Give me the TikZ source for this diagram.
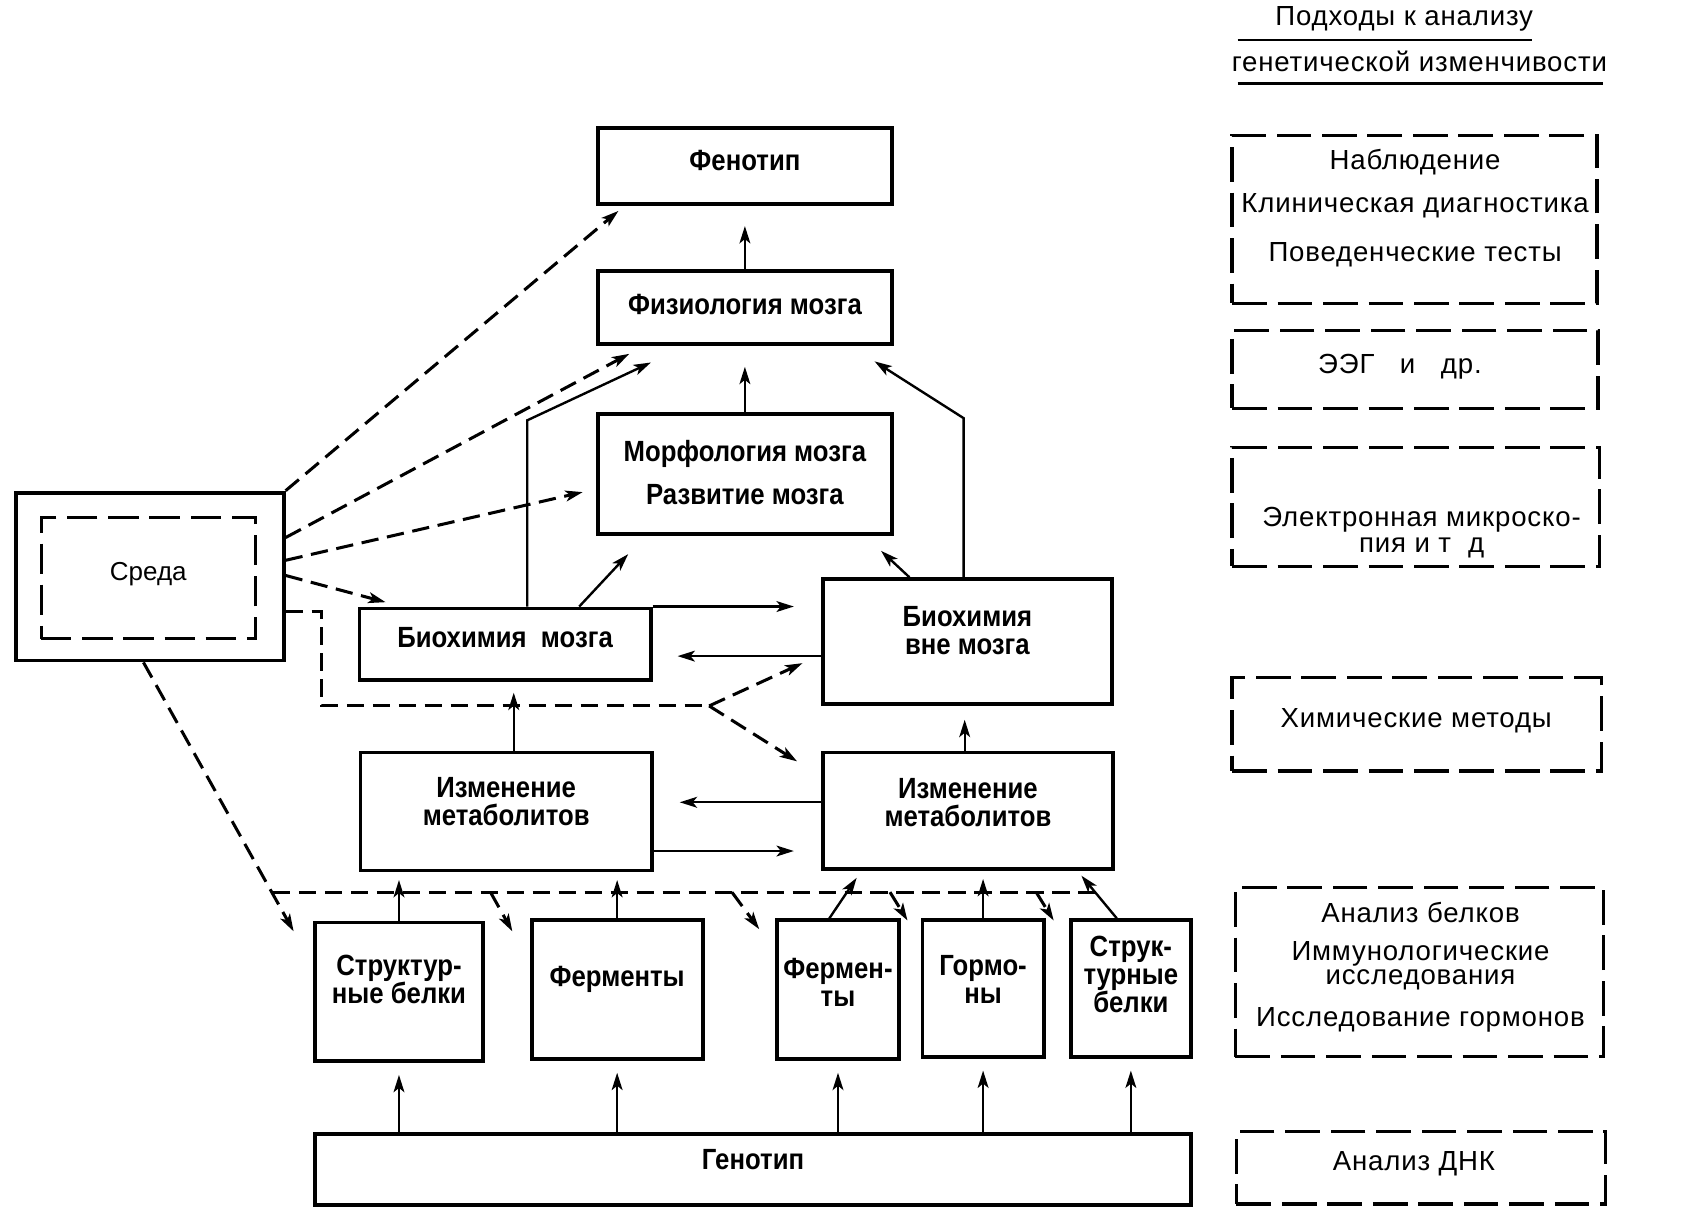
\documentclass[tikz,border=0pt]{standalone}
\usepackage{fontspec}
\setmainfont{Liberation Sans}
\newfontfamily\boxfont[FakeStretch=0.88]{Liberation Sans}
\newfontfamily\colfont[LetterSpace=3]{Liberation Sans}
\usetikzlibrary{arrows.meta,calc}
\begin{document}
\begin{tikzpicture}[x=1pt,y=-1pt,
  box/.style={draw, line width=3.6pt, rectangle, inner sep=0pt},
  btxt/.style={inner sep=0pt, align=center, font=\boxfont\bfseries\fontsize{27}{26}\selectfont},
  dbox/.style={draw, line width=3pt, dash pattern=on 32pt off 10pt, inner sep=0pt},
  coltext/.style={inner sep=0pt, align=center, font=\colfont\fontsize{25.5}{24}\selectfont},
  arr/.style={line width=2.2pt, -{Stealth[length=16pt,width=10pt,inset=4pt]}},
  darr/.style={line width=2.8pt, dash pattern=on 16pt off 8pt, -{Stealth[length=16pt,width=10pt,inset=4pt]}},
  dline/.style={line width=2.8pt, dash pattern=on 16pt off 8pt},
  sz/.style 2 args={minimum width=#1pt, minimum height=#2pt}
]
\fill[white] (0,0) rectangle (1560,1117);
\useasboundingbox (0,0) rectangle (1560,1117);

% main boxes
\node[box, sz={272}{70}] (phen) at (688,153) {};
\node[btxt] (phent) at ($(phen)+(0,-5)$) {Фенотип};
\node[box, sz={272}{68}] (phys) at (688,284) {};
\node[btxt] (physt) at ($(phys)+(0,-3)$) {Физиология мозга};
\node[box, sz={272}{111}] (morph) at (688,437.5) {};
\node[btxt] (morpht) at ($(morph)+(0,-1)$) {Морфология мозга\\[14pt]Развитие мозга};
\node[draw, line width=3.6pt, inner sep=0pt, sz={247}{155}] (sreda) at (138.5,532.5) {};
\node[draw, line width=3pt, dash pattern=on 28pt off 10pt, inner sep=0pt, sz={198}{112}] (sredai) at (137,534) {};
\node[inner sep=0pt, font=\fontsize{24}{24}\selectfont] (sredat) at ($(sredai)+(0,-4)$) {Среда};
\node[box, sz={269}{66}] (bm) at (466.5,595) {};
\node[btxt] (bmt) at ($(bm)+(0,-6)$) {Биохимия\ \ мозга};
\node[box, sz={267}{115}] (bvm) at (893.5,592.5) {};
\node[btxt] (bvmt) at ($(bvm)+(0,-10)$) {Биохимия\\вне мозга};
\node[box, sz={269}{109}] (iml) at (467.5,749.5) {};
\node[btxt] (imlt) at ($(iml)+(0,-9)$) {Изменение\\метаболитов};
\node[box, sz={268}{108}] (imr) at (894,749) {};
\node[btxt] (imrt) at ($(imr)+(0,-8)$) {Изменение\\метаболитов};
\node[box, sz={155}{128}] (sb1) at (368.5,916) {};
\node[btxt] (sb1t) at ($(sb1)+(0,-11)$) {Структур-\\ные белки};
\node[box, sz={158}{128}] (fer1) at (570,914) {};
\node[btxt] (fer1t) at ($(fer1)+(0,-9)$) {Ферменты};
\node[box, sz={112}{128}] (fer2) at (774,914) {};
\node[btxt] (fer2t) at ($(fer2)+(0,-7)$) {Фермен-\\ты};
\node[box, sz={112}{126}] (horm) at (908,913) {};
\node[btxt] (hormt) at ($(horm)+(0,-8)$) {Гормо-\\ны};
\node[box, sz={111}{126}] (sb2) at (1044.5,913) {};
\node[btxt] (sb2t) at ($(sb2)+(0,-13)$) {Струк-\\турные\\белки};
\node[box, sz={809}{66}] (geno) at (695.5,1080) {};
\node[btxt] (genot) at ($(geno)+(0,-9)$) {Генотип};

% right column
\node[coltext] (t1) at (1297,17) {Подходы к анализу};
\node[coltext] (t2) at (1311,57) {генетической изменчивости};
\draw[line width=2.5pt] (1143,37) -- (1415,37);
\draw[line width=2.5pt] (1143,77) -- (1481,77);

\node[dbox, sz={337}{155}] (r1) at (1306.5,202.5) {};
\node[coltext] (r1t) at (1307,192) {Наблюдение\\[16pt]Клиническая диагностика\\[21pt]Поведенческие тесты};
\node[dbox, sz={338}{72}] (r2) at (1307,341) {};
\node[coltext] (r2t) at (1293,339) {ЭЭГ\ \ \ и\ \ \ др.};
\node[dbox, sz={339}{110}] (r3) at (1307.5,468) {};
\node[coltext, font=\colfont\fontsize{25.5}{24}\selectfont] (r3t) at (1313,492) {Электронная микроско-\\пия и т\ \ д};
\node[dbox, sz={341}{86}] (r4) at (1308.5,669) {};
\node[coltext] (r4t) at (1308,666) {Химические методы};
\node[dbox, sz={340}{156}] (r5) at (1311,898) {};
\node[coltext, font=\colfont\fontsize{25.5}{23}\selectfont] (r5t) at (1312,893) {Анализ белков\\[12pt]Иммунологические\\исследования\\[15pt]Исследование гормонов};
\node[dbox, sz={341}{67}] (r6) at (1312.5,1078.5) {};
\node[coltext] (r6t) at (1306,1075) {Анализ ДНК};

% genotype arrows
\foreach \n in {sb1,fer1,fer2,horm,sb2}
  \draw[arr, shorten >=11pt] (geno.north -| \n) -- (\n.south);

% proteins to metabolites
\draw[arr, shorten >=7pt] (sb1.north) -- (sb1.north |- iml.south);
\draw[arr, shorten >=7pt] (fer1.north) -- (fer1.north |- iml.south);
\draw[arr] ([xshift=-8pt]fer2.north) -- ($(imr.south west)+(33,6)$);
\draw[arr, shorten >=7pt] (horm.north) -- (horm.north |- imr.south);
\draw[arr] ([xshift=-13pt]sb2.north) -- ($(imr.south east)+(-31,4)$);

% middle level
\draw[arr, shorten >=10pt] ([xshift=7pt]iml.north) -- ([xshift=7pt]iml.north |- bm.south);
\draw[arr, shorten >=13pt] ([xshift=-3pt]imr.north) -- ([xshift=-3pt]imr.north |- bvm.south);
\draw[arr, shorten >=24pt] ([yshift=8pt]imr.west) -- ([yshift=8pt]imr.west -| iml.east);
\draw[arr, shorten >=25pt] ([yshift=-36.5pt]iml.east) -- ([yshift=-36.5pt]iml.east -| imr.west);
\draw[arr, shorten >=23pt] ([yshift=-13.5pt]bvm.west) -- ([yshift=-13.5pt]bvm.west -| bm.east);
\draw[arr, shorten >=25pt] (bm.north east) -- (bm.north east -| bvm.west);

% upward
\draw[arr] ([xshift=20.5pt]bm.north) -- ++(0,-172) -- ($(phys.south west)+(51,15)$);
\draw[arr] ([xshift=68.5pt]bm.north) -- ($(morph.south west)+(30,17)$);
\draw[arr] ([xshift=-3.5pt]bvm.north) -- ++(0,-147) -- ($(phys.south east)+(-18,14)$);
\draw[arr] ([xshift=-53.5pt]bvm.north) -- ($(morph.south east)+(-12,14)$);
\draw[arr, shorten >=19pt] (phys.north) -- (phen.south);
\draw[arr, shorten >=19pt] (morph.north) -- (phys.south);

% environment influences
\draw[darr] (sreda.north east) -- ($(phen.south west)+(21,5)$);
\draw[darr] ([yshift=36pt]sreda.east) -- ($(phys.south west)+(31,7)$);
\draw[darr] ([yshift=15pt]sreda.east) -- ($(morph.west)+(-12,17)$);
\draw[darr] ([yshift=1pt]sreda.east) -- ($(bm.north west)+(26,-4)$);
\coordinate (jn) at (655,652);
\draw[dline] ([yshift=-32pt]sreda.east) -- ++(33,0) |- (jn);
\draw[darr] (jn) -- ($(bvm.west)+(-17,20)$);
\draw[darr] (jn) -- ($(imr.north west)+(-22,10)$);

\draw[darr] ([xshift=-6pt]sreda.south) -- ($(sb1.north west)+(-18,10)$);
\coordinate (hs) at (252,824);
\coordinate (he) at (1012,824);
\draw[dline] (hs) -- (he);
\coordinate (b1) at (453,824);
\coordinate (b2) at (676,824);
\coordinate (b3) at (822,824);
\coordinate (b4) at (957,824);
\draw[darr] (b1) -- ($(fer1.north west)+(-16,12)$);
\draw[darr] (b2) -- ($(fer2.north west)+(-15,10)$);
\draw[darr] (b3) -- ($(horm.north west)+(-12,2)$);
\draw[darr] (b4) -- ($(sb2.north west)+(-14,2)$);
\end{tikzpicture}
\end{document}
